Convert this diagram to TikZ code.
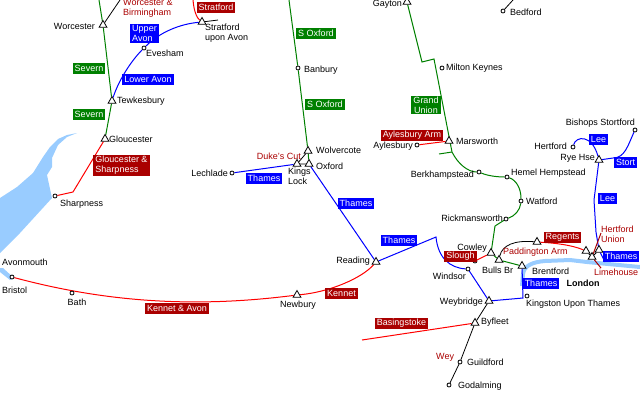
\documentclass[tikz,border=0pt]{standalone}
\usepackage{fontspec}
\setmainfont{Liberation Sans}
\usetikzlibrary{shapes.geometric,backgrounds}
\definecolor{canalgreen}{RGB}{0,128,0}
\definecolor{canalblue}{RGB}{0,0,255}
\definecolor{canalred}{RGB}{255,0,0}
\definecolor{canalmaroon}{RGB}{170,0,0}
\definecolor{water}{RGB}{153,204,255}
\tikzset{
  lock/.style={regular polygon, regular polygon sides=3, draw=black, fill=white, inner sep=0pt, minimum size=9pt, line width=0.8pt},
  town/.style={circle, draw=black, fill=white, inner sep=0pt, minimum size=4pt, line width=0.8pt},
  place/.style={inner sep=0pt, text=black, font=\fontsize{9}{10}\selectfont, align=left},
  redtext/.style={place, text=canalmaroon},
  tag/.style={inner xsep=2pt, inner ysep=1pt, minimum height=11pt, text=white, font=\fontsize{9}{10}\selectfont, align=left},
  greentag/.style={tag, fill=canalgreen},
  bluetag/.style={tag, fill=canalblue},
  redtag/.style={tag, fill=canalmaroon},
  greenline/.style={draw=canalgreen, line width=1pt},
  blueline/.style={draw=canalblue, line width=1pt},
  redline/.style={draw=canalred, line width=1pt},
  blackline/.style={draw=black, line width=0.8pt}
}

\begin{document}
\begin{tikzpicture}[x=1pt,y=-1pt]
  \useasboundingbox (0,0) rectangle (640,400);

  % locks and towns
  \node [lock] (worcester) at (103,25) {};
  \node [lock] (tewkesbury) at (112,101) {};
  \node [lock] (gloucester) at (105,139) {};
  \node [lock] (stratford) at (202,22) {};
  \node [town] (evesham) at (144,48) {};
  \node [town] (sharpness) at (55,196) {};
  \node [town] (bristol) at (12,277) {};
  \node [town] (bath) at (72,293) {};
  \node [lock] (newbury) at (297,295) {};
  \node [lock] (reading) at (376,262) {};
  \node [town] (lechlade) at (232,173) {};
  \node [lock] (kings) at (297,164) {};
  \node [lock] (oxford) at (309,164) {};
  \node [lock] (wolvercote) at (308,151) {};
  \node [town] (banbury) at (298,68) {};
  \node [lock] (gayton) at (407,2) {};
  \node [town] (milton) at (442,68) {};
  \node [town] (bedford) at (503,11) {};
  \node [lock] (marsworth) at (449,141) {};
  \node [town] (aylesbury) at (417,145) {};
  \node [town] (berkhampstead) at (479,172) {};
  \node [town] (hemel) at (507,177) {};
  \node [town] (watford) at (521,201) {};
  \node [town] (rickmansworth) at (506,219) {};
  \node [lock] (cowley) at (491,253) {};
  \node [town] (slough) at (475,261) {};
  \node [lock] (bulls) at (499,260) {};
  \node [lock] (brentford) at (522,266) {};
  \node [lock] (regents) at (537,242) {};
  \node [town] (windsor) at (468,269) {};
  \node [lock] (weybridge) at (489,301) {};
  \node [town] (kingston) at (527,296) {};
  \node [lock] (byfleet) at (475,323) {};
  \node [town] (guildford) at (460,362) {};
  \node [town] (godalming) at (449,385) {};
  \node [lock] (ryehse) at (599,160) {};
  \node [town] (hertford) at (573,147) {};
  \node [town] (bishops) at (635,130) {};
  \node [lock] (hertunion) at (586,251) {};
  \node [lock] (lee) at (599,250) {};
  \node [lock] (limehouse) at (592,257) {};

  % loose ends
  \coordinate (sevtop) at (99,0);
  \coordinate (wbtop) at (120,0);
  \coordinate (strtop) at (193,0);
  \coordinate (strend) at (218,20);
  \coordinate (sharpbend) at (73,192);
  \coordinate (soxtop) at (289,0);
  \coordinate (gubend) at (422,62);
  \coordinate (gucross) at (434,59);
  \coordinate (gujoin) at (452,152);
  \coordinate (gustub) at (439,154);
  \coordinate (gubend2) at (495,226);
  \coordinate (thbend) at (436,237);
  \coordinate (thbend2) at (523,298);
  \coordinate (basing) at (362,340);
  \coordinate (bedtop) at (513,0);
  \coordinate (hutop) at (601,233);
  \coordinate (limeend) at (601,268);
  \coordinate (thend) at (605,262);

  \begin{scope}[on background layer]
  % water
  \fill [water] (77,133) -- (67,135) -- (58,139) -- (50,147) -- (43,157) -- (33,173) -- (17,187) -- (0,198)
    -- (0,253) -- (20,233) -- (52,198) -- (47,175) -- (52,167) -- (52,158) -- (58,145) -- (67,137) -- cycle;
  \fill [water] (0,268) -- (3,268) -- (14,278) -- (10,280) -- (0,272) -- cycle;
  \draw [water, line width=4pt] (522,286) -- (523,274) .. controls (524,266) and (532,262) .. (545,261)
    -- (570,260) -- (587,262) -- (640,267);

  % canals
  \draw [greenline] (sevtop) -- (worcester) -- (tewkesbury) -- (gloucester);
  \draw [blackline] (worcester) -- (wbtop);
  \draw [redline] (strtop) .. controls (194,12) and (197,18) .. (stratford);
  \draw [blackline] (stratford) -- (strend);
  \draw [blueline] (tewkesbury) .. controls (118,82) and (130,62) .. (evesham);
  \draw [blueline] (evesham) .. controls (160,32) and (180,24) .. (stratford);
  \draw [redline] (gloucester) -- (sharpbend) -- (sharpness);
  \draw [redline] (bristol) .. controls (120,306) and (210,306) .. (newbury);
  \draw [redline] (newbury) .. controls (330,292) and (362,278) .. (reading);
  \draw [blueline] (lechlade) -- (kings);
  \draw [blackline] (kings) -- (wolvercote) (kings) -- (oxford);
  \draw [greenline] (soxtop) -- (banbury) -- (wolvercote) -- (oxford);
  \draw [blueline] (oxford) -- (reading);
  \draw [greenline] (gayton) -- (gubend) -- (gucross) -- (gujoin) .. controls (458,164) and (468,172) .. (berkhampstead);
  \draw [greenline] (gujoin) -- (gustub);
  \draw [greenline] (berkhampstead) .. controls (488,176) and (498,177) .. (hemel);
  \draw [greenline] (hemel) .. controls (516,180) and (521,188) .. (watford);
  \draw [greenline] (watford) .. controls (520,210) and (515,216) .. (rickmansworth);
  \draw [greenline] (rickmansworth) -- (gubend2) -- (cowley) -- (bulls) -- (brentford);
  \draw [redline] (aylesbury) -- (marsworth);
  \draw [redline] (slough) -- (cowley);
  \draw [blackline] (bulls) .. controls (502,245) and (515,240) .. (regents);
  \draw [redline] (regents) .. controls (555,243) and (572,245) .. (hertunion);
  \draw [blueline] (reading) -- (thbend) .. controls (438,258) and (450,268) .. (windsor);
  \draw [blueline] (windsor) -- (weybridge) -- (thbend2) -- (brentford);
  \draw [blackline] (weybridge) -- (byfleet) -- (guildford) -- (godalming);
  \draw [redline] (byfleet) -- (basing);
  \draw [blackline] (bedford) -- (bedtop);
  \draw [blueline] (hertford) .. controls (576,136) and (592,134) .. (ryehse);
  \draw [blueline] (ryehse) -- (613,158) .. controls (625,158) and (628,145) .. (bishops);
  \draw [blueline] (ryehse) -- (594,200) -- (596,232) -- (lee) -- (thend);
  \draw [redline, draw=canalmaroon] (hutop) -- (limehouse) -- (limeend);
  \draw [blackline] (hertunion) -- (limehouse) -- (lee);
  \end{scope}

  % tags
  \node [greentag] (sev1) at (89,68.5) {Severn};
  \node [greentag] (sev2) at (89,114) {Severn};
  \node [bluetag] (uavon) at (144.5,33.5) {Upper\\Avon};
  \node [bluetag] (lavon) at (148,79) {Lower Avon};
  \node [redtag] (glos) at (121.5,165.5) {Gloucester \&\\Sharpness};
  \node [redtag] (strat) at (216,7.5) {Stratford};
  \node [redtag] (kenav) at (177,308.5) {Kennet \& Avon};
  \node [redtag] (kennet) at (341.5,293.5) {Kennet};
  \node [greentag] (sox1) at (316,33.5) {S Oxford};
  \node [greentag] (sox2) at (325,104.5) {S Oxford};
  \node [bluetag] (th1) at (264,178.5) {Thames};
  \node [bluetag] (th2) at (356,203.5) {Thames};
  \node [bluetag] (th3) at (399,240.5) {Thames};
  \node [bluetag] (th4) at (541,283) {Thames};
  \node [bluetag] (th5) at (621,256) {Thames};
  \node [greentag, align=center] (grand) at (426,105) {Grand\\Union};
  \node [redtag] (ayl) at (412,135) {Aylesbury Arm};
  \node [redtag] (slo) at (460.5,256.5) {Slough};
  \node [redtag] (reg) at (562.5,237.5) {Regents};
  \node [redtag] (bas) at (401.5,323.5) {Basingstoke};
  \node [bluetag] (lee1) at (598.5,139.5) {Lee};
  \node [bluetag] (lee2) at (607.5,198.5) {Lee};
  \node [bluetag] (stort) at (625.5,162.5) {Stort};

  % red texts
  \node [redtext, anchor=west] (wbtext) at (123,8.5) {Worcester \&\\Birmingham};
  \node [redtext, anchor=east] (dukes) at (301,156) {Duke's Cut};
  \node [redtext, anchor=west] (padd) at (503,252) {Paddington Arm};
  \node [redtext, anchor=west] (hutext) at (601,234.5) {Hertford\\Union};
  \node [redtext, anchor=west] (limetext) at (594,272) {Limehouse};
  \node [redtext, anchor=west] (wey) at (436,357) {Wey};

  % place names
  \node [place, anchor=east] (t1) at (95,26) {Worcester};
  \node [place, anchor=west] (t2) at (205,33.5) {Stratford\\upon Avon};
  \node [place, anchor=west] (t3) at (146,53) {Evesham};
  \node [place, anchor=west] (t4) at (117,101) {Tewkesbury};
  \node [place, anchor=west] (t5) at (109,139) {Gloucester};
  \node [place, anchor=west] (t6) at (60,204) {Sharpness};
  \node [place, anchor=west] (t7) at (2,262) {Avonmouth};
  \node [place, anchor=west] (t8) at (2,290) {Bristol};
  \node [place] (t9) at (77,302) {Bath};
  \node [place] (t10) at (298,305) {Newbury};
  \node [place, anchor=east] (t11) at (370,261) {Reading};
  \node [place, anchor=east] (t12) at (228,173) {Lechlade};
  \node [place, anchor=west] (t13) at (288,176) {Kings\\Lock};
  \node [place, anchor=west] (t14) at (316,166) {Oxford};
  \node [place, anchor=west] (t15) at (316,150) {Wolvercote};
  \node [place, anchor=west] (t16) at (304,70) {Banbury};
  \node [place, anchor=east] (t17) at (402,4) {Gayton};
  \node [place, anchor=west] (t18) at (446,68) {Milton Keynes};
  \node [place, anchor=west] (t19) at (510,12) {Bedford};
  \node [place, anchor=west] (t20) at (456,141) {Marsworth};
  \node [place, anchor=east] (t21) at (413,146) {Aylesbury};
  \node [place, anchor=east] (t22) at (474,175) {Berkhampstead};
  \node [place, anchor=west] (t23) at (511,173) {Hemel Hempstead};
  \node [place, anchor=west] (t24) at (526,201) {Watford};
  \node [place, anchor=east] (t25) at (503,218) {Rickmansworth};
  \node [place, anchor=east] (t26) at (487,248) {Cowley};
  \node [place, anchor=west] (t27) at (482,270) {Bulls Br};
  \node [place, anchor=west] (t28) at (532,271) {Brentford};
  \node [place, anchor=east] (t29) at (466,276) {Windsor};
  \node [place, anchor=east] (t30) at (483,302) {Weybridge};
  \node [place, anchor=west] (t31) at (526,304) {Kingston Upon Thames};
  \node [place, anchor=west] (t32) at (481,322) {Byfleet};
  \node [place, anchor=west] (t33) at (467,362) {Guildford};
  \node [place, anchor=west] (t34) at (458,386) {Godalming};
  \node [place, anchor=east] (t35) at (635,123) {Bishops Stortford};
  \node [place, anchor=east] (t36) at (567,146) {Hertford};
  \node [place, anchor=east] (t37) at (595,158) {Rye Hse};
  \node [place, font=\fontsize{9}{10}\selectfont\bfseries] (t38) at (583,283) {London};
\end{tikzpicture}
\end{document}
